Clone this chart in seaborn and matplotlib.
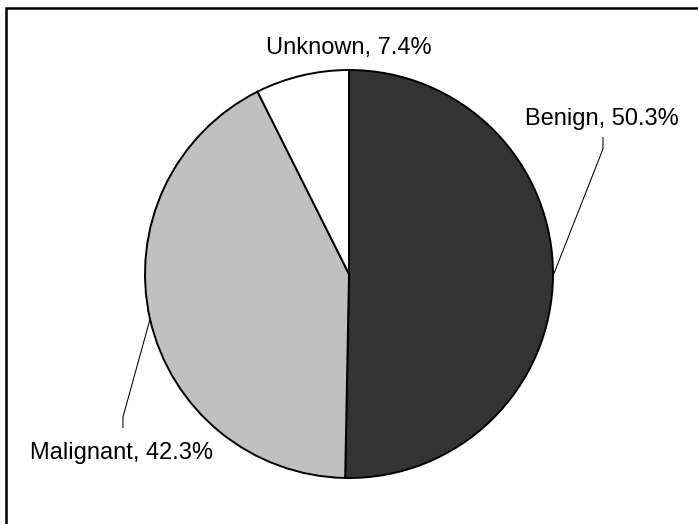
import numpy as np
import matplotlib
matplotlib.use("Agg")
import matplotlib.pyplot as plt
import matplotlib.patches as mpatches
import seaborn as sns

# Data
categories = ["Benign", "Malignant", "Unknown"]
shares = [50.3, 42.3, 7.4]
slice_colors = ["#333333", "#c0c0c0", "#ffffff"]

sns.set_style("white")
plt.rcParams['font.family'] = ['Liberation Sans', 'DejaVu Sans']

fig = plt.figure(figsize=(6.98, 5.24), dpi=100)
ax = fig.add_axes([0, 0, 1, 1])

wedges, _ = ax.pie(shares, colors=slice_colors, startangle=90, counterclock=False,
                   radius=1.0, wedgeprops={"edgecolor": "black", "linewidth": 1.4})

# same scale on both axes: 204 px per unit, centre at (349, 274) px
scale = 204.0
ax.set_xlim(-349 / scale, (698 - 349) / scale)
ax.set_ylim(-(524 - 274) / scale, 274 / scale)
ax.set_aspect('auto')
ax.axis('off')

# label layout: (elbow point, text position) in data units, None -> no leader
layout = {
    "Benign": ((1.245, 0.613), (1.24, 0.730), "center"),
    "Malignant": ((-1.108, -0.701), (-1.115, -0.907), "center"),
    "Unknown": (None, (0.0, 1.078), "center"),
}

for w, name, val in zip(wedges, categories, shares):
    elbow, (tx, ty), ha = layout[name]
    label = f"{name}, {val:.1f}%"
    ax.text(tx, ty, label, ha=ha, va="baseline", fontsize=17, color="black")
    if elbow is not None:
        mid = np.deg2rad((w.theta1 + w.theta2) / 2)
        ex, ey = np.cos(mid) * w.r, np.sin(mid) * w.r
        # vertical stub toward the text
        stub = elbow[1] + (0.059 if ty > elbow[1] else -0.054)
        ax.plot([ex, elbow[0], elbow[0]], [ey, elbow[1], stub],
                color="black", lw=0.75, solid_capstyle="butt")

# chart area border (only top and left visible in the crop)
border = mpatches.Rectangle((5.5 / 698, -0.2), 1.5, 1.2 - 8 / 524 + 0.0,
                            transform=fig.transFigure, fill=False,
                            edgecolor="black", linewidth=1.8)
fig.patches.append(border)

fig.savefig("out.png", dpi=100, facecolor="white")
